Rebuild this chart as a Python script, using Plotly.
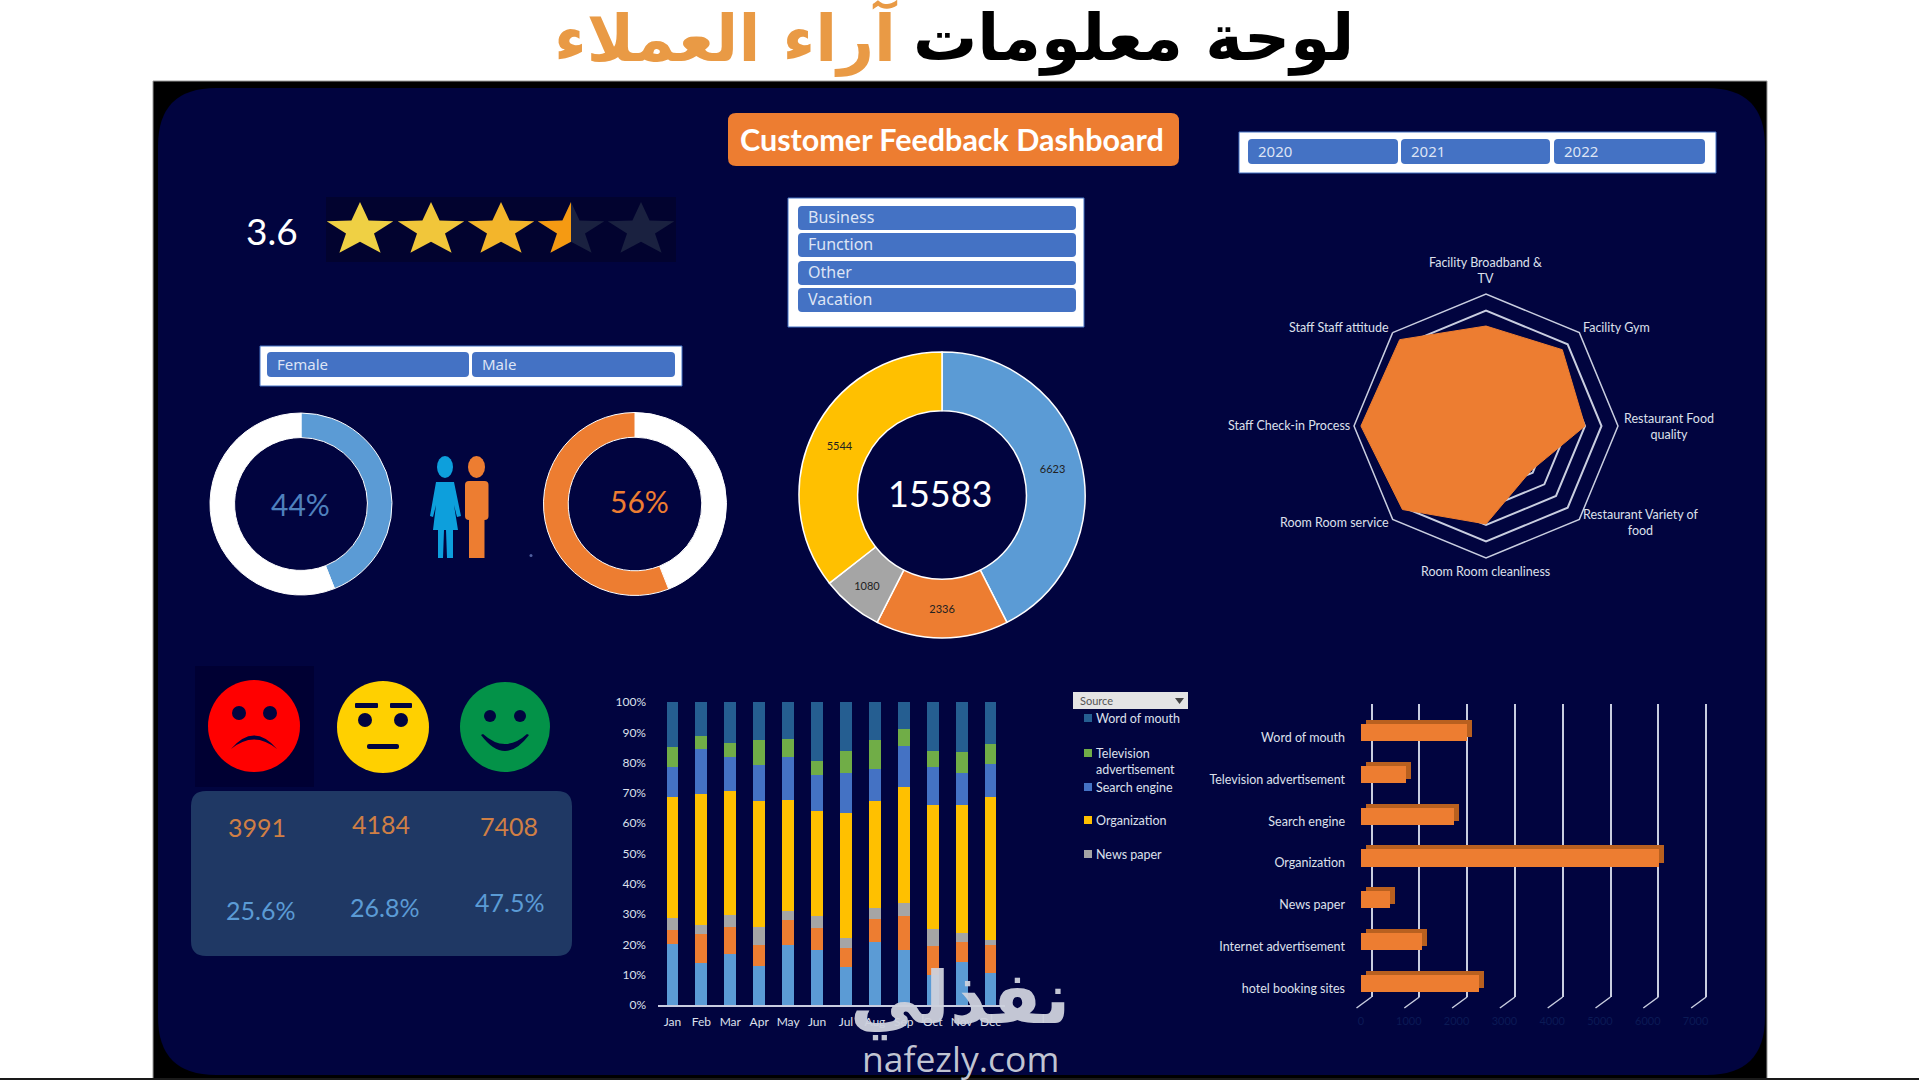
import math
import plotly.graph_objects as go

W = 1919
H = 1080

NAVY = "#01043F"
ORANGE = "#ED7D31"
BLUE = "#5B9BD5"
SLICER = "#4472C4"
TEXT = "#DDE0EC"
FONT = "Lato"

years = ["2020", "2021", "2022"]
travel_types = ["Business", "Function", "Other", "Vacation"]
genders = ["Female", "Male"]
rating = "3.6"
female_share = [44, 56]
male_share = [44, 56]

type_values = [6623, 2336, 1080, 5544]
type_total = "15583"
type_colors = [BLUE, ORANGE, "#A5A5A5", "#FFC000"]

radar_labels = ["Facility Broadband &<br>TV", "Facility Gym", "Restaurant Food<br>quality",
                "Restaurant Variety of<br>food", "Room Room cleanliness", "Room Room service",
                "Staff Check-in Process", "Staff Staff attitude"]
radar_values = [3.03, 3.27, 3.0, 1.92, 2.97, 3.58, 3.79, 3.7]
radar_label_x = [1485.5, 1616.5, 1669, 1641, 1485.5, 1334.5, 1288.5, 1338.5]
radar_label_y = [270, 327, 426, 522, 571, 522, 425, 327]

mood_counts = ["3991", "4184", "7408"]
mood_shares = ["25.6%", "26.8%", "47.5%"]

months = ["Jan", "Feb", "Mar", "Apr", "May", "Jun", "Jul", "Aug", "Sep", "Oct", "Nov", "Dec"]
hotel = [20.2, 13.9, 16.7, 13.0, 19.7, 18.1, 12.6, 20.7, 18.1, 9.8, 14.3, 10.4]
internet = [4.6, 9.4, 8.9, 6.8, 8.4, 7.2, 6.3, 7.6, 11.2, 9.6, 6.5, 9.4]
news = [3.9, 3.1, 4.0, 5.8, 2.8, 4.0, 3.1, 3.6, 4.5, 5.8, 3.0, 1.7]
organization = [39.8, 43.4, 41.1, 41.6, 36.7, 34.7, 41.5, 35.3, 38.3, 40.7, 42.1, 47.0]
search = [10.1, 14.8, 11.1, 11.9, 14.1, 12.0, 13.0, 10.6, 13.5, 12.7, 10.6, 11.1]
television = [6.5, 4.3, 4.7, 8.2, 6.1, 4.6, 7.3, 9.5, 5.4, 5.2, 6.9, 6.4]
word_of_mouth = [14.9, 11.1, 13.5, 12.7, 12.2, 19.4, 16.2, 12.7, 9.0, 16.2, 16.6, 14.0]

source_names = ["Word of mouth", "Television advertisement", "Search engine", "Organization",
                "News paper", "Internet advertisement", "hotel booking sites"]
source_values = [2220, 940, 1945, 6230, 610, 1270, 2460]
source_ticks = [0, 1000, 2000, 3000, 4000, 5000, 6000, 7000]


def dom_x(left, right):
    return [left / W, right / W]


def dom_y(top, bottom):
    return [1 - bottom / H, 1 - top / H]


shapes = []
annotations = []


def add_path(path, color, layer="below"):
    shapes.append(dict(type="path", path=path, xref="x", yref="y", fillcolor=color,
                       line=dict(width=0), layer=layer))


def add_line(x0, y0, x1, y1, color, width=1):
    shapes.append(dict(type="line", x0=x0, y0=y0, x1=x1, y1=y1, xref="x", yref="y",
                       line=dict(color=color, width=width), layer="below"))


def add_ellipse(cx, cy, rx, ry, color):
    shapes.append(dict(type="circle", x0=cx - rx, x1=cx + rx, y0=cy - ry, y1=cy + ry,
                       xref="x", yref="y", fillcolor=color, line=dict(width=0), layer="below"))


def round_rect(x0, y0, x1, y1, r, color):
    add_path(f"M{x0 + r},{y0} L{x1 - r},{y0} Q{x1},{y0} {x1},{y0 + r} L{x1},{y1 - r} "
             f"Q{x1},{y1} {x1 - r},{y1} L{x0 + r},{y1} Q{x0},{y1} {x0},{y1 - r} "
             f"L{x0},{y0 + r} Q{x0},{y0} {x0 + r},{y0} Z", color)


def polygon(points, color):
    add_path("M" + " L".join(f"{x:.1f},{y:.1f}" for x, y in points) + " Z", color)


def label(x, y, text, size, color=TEXT, anchor="center", family=FONT):
    annotations.append(dict(x=x, y=y, xref="x", yref="y", text=text, showarrow=False,
                            xanchor=anchor, yanchor="middle",
                            font=dict(size=size, color=color, family=family)))


def star_points(cx, cy, rx, ry):
    points = []
    for i in range(10):
        scale = 1 if i % 2 == 0 else 0.42
        angle = math.pi * i / 5
        points.append((cx + rx * scale * math.sin(angle), cy - ry * scale * math.cos(angle)))
    return points


def slicer(box, buttons, names, size=15):
    shapes.append(dict(type="rect", x0=box[0], y0=box[1], x1=box[2], y1=box[3], xref="x", yref="y",
                       fillcolor="white", line=dict(color=SLICER, width=1), layer="below"))
    for b, name in zip(buttons, names):
        round_rect(b[0], b[1], b[2], b[3], 4, SLICER)
        label(b[0] + 8, (b[1] + b[3]) / 2 - 1, name, size, "#DDE4F5", "left", "Noto Sans")


# page frame
shapes.append(dict(type="rect", x0=153, y0=81, x1=1767, y1=1080, xref="x", yref="y",
                   fillcolor="#000000", line=dict(color="#9A9A9A", width=1), layer="below"))
round_rect(158, 88, 1765, 1075, 58, NAVY)
add_line(0, 1079, W, 1079, "#1A1A1A", 2)

# headings
label(1356, 38, "<b>لوحة معلومات</b>", 64, "#000000", "right", "DejaVu Sans")
label(900, 38, "<b>آراء العملاء</b>", 64, "#E99A45", "right", "DejaVu Sans")
round_rect(728, 113, 1179, 166, 8, ORANGE)
label(952, 139, "<b>Customer Feedback Dashboard</b>", 30.5, "white")

# slicers
slicer((1239, 132, 1716, 173), [(1248, 139, 1398, 164), (1401, 139, 1550, 164), (1554, 139, 1705, 164)], years)
slicer((788, 198, 1084, 327), [(798, 206, 1076, 230), (798, 233, 1076, 257), (798, 261, 1076, 285),
                               (798, 288, 1076, 312)], travel_types, 16)
slicer((260, 346, 682, 386), [(267, 352, 469, 377), (472, 352, 675, 377)], genders)

# rating
label(272, 230, rating, 37, "white")
shapes.append(dict(type="rect", x0=326, y0=197, x1=676, y1=262, xref="x", yref="y",
                   fillcolor="#02032F", line=dict(width=0), layer="below"))
star_x = [360, 431, 501, 571, 641]
star_colors = ["#EFD044", "#F1C63A", "#F3B52B", "#1A2140", "#1A2140"]
for x, color in zip(star_x, star_colors):
    polygon(star_points(x, 230, 35, 28), color)
polygon(star_points(star_x[3], 230, 35, 28)[5:] + [star_points(star_x[3], 230, 35, 28)[0]], "#F59A12")

# people
add_ellipse(445, 467, 8, 11, "#0D9FDC")
polygon([(436, 482), (454, 482), (461, 516), (457, 517), (454, 505), (458, 530), (453, 530), (453, 558),
         (447, 558), (446, 530), (444, 530), (443, 558), (438, 558), (438, 530), (433, 530), (436, 505),
         (433, 517), (430, 516)], "#0D9FDC")
add_ellipse(476.5, 467, 8.5, 11, ORANGE)
round_rect(465, 481, 488.5, 520, 4, ORANGE)
polygon([(469, 515), (484.5, 515), (484.5, 558), (469, 558)], ORANGE)
add_ellipse(531, 555.5, 1.5, 1.5, "#5060A0")
label(300, 504, "44%", 30, "#4F81BD")
label(639, 501, "56%", 30, ORANGE)

# mood faces
shapes.append(dict(type="rect", x0=195, y0=666, x1=314, y1=787, xref="x", yref="y",
                   fillcolor="#000033", line=dict(width=0), layer="below"))
add_ellipse(254, 726, 46, 46, "#FF0000")
add_ellipse(239, 713, 7, 7, "#01043F")
add_ellipse(270, 713, 7, 7, "#01043F")
add_path("M231,749 Q254,722 277,749 Q254,730 231,749 Z", "#01043F")
add_ellipse(383, 727, 46, 46, "#FFD000")
add_ellipse(365, 720, 7, 7, "#01043F")
add_ellipse(401, 720, 7, 7, "#01043F")
round_rect(355, 703, 378, 708, 1, "#01043F")
round_rect(390, 703, 412, 708, 1, "#01043F")
round_rect(367, 744, 399, 749, 2, "#01043F")
add_ellipse(505, 727, 45, 45, "#039248")
add_ellipse(490, 716, 6, 6, "#01043F")
add_ellipse(520, 716, 6, 6, "#01043F")
add_path("M481,735 Q505,767 529,735 L527,734 Q505,754 483,734 Z", "#01043F")
round_rect(191, 791, 572, 956, 15, "#1F3864")
for x, y, text in zip([257, 381, 509], [827, 824, 826], mood_counts):
    label(x, y, text, 25, "#D07F45")
for x, y, text in zip([260, 384, 509], [910, 907, 902], mood_shares):
    label(x, y, text, 25, BLUE)

# column chart legend, drawn by hand because the slicer cuts the last entries off
shapes.append(dict(type="rect", x0=1073, y0=692, x1=1188, y1=709, xref="x", yref="y",
                   fillcolor="#E4E4E4", line=dict(width=0), layer="below"))
label(1078, 700.5, "Source", 11, "#555555", "left")
polygon([(1175, 698), (1184, 698), (1179.5, 704)], "#444444")
legend_y = [718, 753, 787, 820, 854]
legend_colors = ["#255E91", "#70AD47", SLICER, "#FFC000", "#A5A5A5"]
legend_text = ["Word of mouth", "Television", "Search engine", "Organization", "News paper"]
for y, color, text in zip(legend_y, legend_colors, legend_text):
    polygon([(1084, y - 4), (1092, y - 4), (1092, y + 4), (1084, y + 4)], color)
    label(1094, y, text, 12.5, TEXT, "left")
label(1094, 769, "advertisement", 12.5, TEXT, "left")

# tails of the 3D wall below the gridlines
wall_left = 1371.5
wall_step = 47.8
for tick in source_ticks:
    wall_x = wall_left + tick / 1000 * wall_step
    add_line(wall_x, 997, wall_x - 15, 1008, "#C9CEE0", 1.5)

# radar labels
for x, y, text in zip(radar_label_x, radar_label_y, radar_labels):
    label(x, y, text, 12.5)

# watermark
label(960, 998, "<b>نفذلي</b>", 72, "rgba(205,209,220,0.95)", "center", "DejaVu Sans")
label(960, 1058, "nafezly.com", 35.5, "rgba(205,209,220,0.95)", "center", "Open Sans")

fig = go.Figure()

# empty layer that carries the decoration
fig.add_trace(go.Scatter(x=[0, W], y=[0, H], mode="none", xaxis="x", yaxis="y", showlegend=False))

# stacked months
column_series = [(hotel, BLUE), (internet, ORANGE), (news, "#A5A5A5"), (organization, "#FFC000"),
                 (search, SLICER), (television, "#70AD47"), (word_of_mouth, "#255E91")]
for values, color in column_series:
    fig.add_trace(go.Bar(x=months, y=values, marker=dict(color=color, line=dict(width=0)),
                         xaxis="x2", yaxis="y2", showlegend=False))

# source bars: wall grid, depth, front face and the category labels a little lower
fig.add_trace(go.Scatter(x=source_ticks, y=[0] * len(source_ticks), mode="none", xaxis="x3", yaxis="y3",
                         showlegend=False))
fig.add_trace(go.Bar(x=source_values, y=source_names, orientation="h", width=0.41,
                     marker=dict(color="#B9601F", line=dict(width=0)), xaxis="x4", yaxis="y4",
                     showlegend=False))
fig.add_trace(go.Bar(x=source_values, y=source_names, orientation="h", width=0.41,
                     marker=dict(color=ORANGE, line=dict(width=0)), xaxis="x5", yaxis="y5",
                     showlegend=False))
fig.add_trace(go.Scatter(x=source_values, y=source_names, mode="none", xaxis="x6", yaxis="y6",
                         showlegend=False))

# donuts
fig.add_trace(go.Pie(values=female_share, marker=dict(colors=[BLUE, "white"], line=dict(color="white", width=1)),
                     hole=0.73, sort=False, direction="clockwise", textinfo="none",
                     domain=dict(x=dom_x(301 - 91, 301 + 91), y=dom_y(504 - 91, 504 + 91)), showlegend=False))
fig.add_trace(go.Pie(values=male_share, marker=dict(colors=["white", ORANGE], line=dict(color="white", width=1)),
                     hole=0.73, sort=False, direction="clockwise", textinfo="none",
                     domain=dict(x=dom_x(635 - 91.5, 635 + 91.5), y=dom_y(504 - 91.5, 504 + 91.5)), showlegend=False))
fig.add_trace(go.Pie(values=type_values, marker=dict(colors=type_colors, line=dict(color="white", width=1.5)),
                     hole=0.59, sort=False, direction="clockwise", textinfo="value",
                     textposition="inside", insidetextorientation="horizontal",
                     textfont=dict(size=11, color="#222222", family=FONT),
                     domain=dict(x=dom_x(942 - 143, 942 + 143), y=dom_y(495 - 143, 495 + 143)), showlegend=False))
label(940, 493, type_total, 36, "white")

# radar
fig.add_trace(go.Scatterpolar(r=radar_values + radar_values[:1], theta=radar_labels + radar_labels[:1],
                              mode="lines", fill="toself", fillcolor=ORANGE, line=dict(color=ORANGE, width=1),
                              showlegend=False))

fig.update_layout(
    width=W,
    height=H,
    margin=dict(l=0, r=0, t=0, b=0, autoexpand=False),
    paper_bgcolor="white",
    plot_bgcolor="rgba(0,0,0,0)",
    barmode="stack",
    bargap=0.59,
    font=dict(family=FONT, color=TEXT, size=12),
    shapes=shapes,
    annotations=annotations,
    xaxis=dict(domain=[0, 1], range=[0, W], visible=False, fixedrange=True),
    yaxis=dict(domain=[0, 1], range=[H, 0], visible=False, fixedrange=True),
    xaxis2=dict(domain=dom_x(658, 1005), anchor="y2", showgrid=False, showline=True, linecolor="#C8CCE0",
                linewidth=1.5, ticks="", tickfont=dict(size=12, color=TEXT), ticklabelstandoff=5),
    yaxis2=dict(domain=dom_y(702, 1005), anchor="x2", range=[0, 100], dtick=10, ticksuffix="%", showgrid=False,
                zeroline=False, ticks="", tickfont=dict(size=12, color=TEXT), ticklabelstandoff=11),
    # half a step of slack each side, plotly drops gridlines sitting on the plot edge
    xaxis3=dict(domain=dom_x(wall_left - 0.5 * wall_step, wall_left + 7.5 * wall_step), anchor="y3",
                range=[-500, 7500], tickvals=source_ticks, showgrid=True, gridcolor="#C9CEE0", gridwidth=1.5,
                zeroline=False, showticklabels=False, ticks=""),
    yaxis3=dict(domain=dom_y(704, 997), anchor="x3", visible=False, range=[0, 1]),
    xaxis4=dict(domain=dom_x(1366, 1366 + 7 * wall_step), anchor="y4", range=[0, 7000], visible=False),
    yaxis4=dict(domain=dom_y(708, 1000), anchor="x4", categoryorder="array", categoryarray=source_names,
                autorange="reversed", visible=False),
    xaxis5=dict(domain=dom_x(1361, 1361 + 7 * wall_step), anchor="y5", range=[0, 7000], tickvals=source_ticks,
                showgrid=False, zeroline=False, ticks="", tickfont=dict(size=11, color="#0B1A55"),
                ticklabelstandoff=9),
    yaxis5=dict(domain=dom_y(712, 1004), anchor="x5", categoryorder="array", categoryarray=source_names,
                autorange="reversed", visible=False),
    xaxis6=dict(domain=dom_x(1361, 1361 + 7 * wall_step), anchor="y6", range=[0, 7000], visible=False),
    yaxis6=dict(domain=dom_y(717, 1009), anchor="x6", categoryorder="array", categoryarray=source_names,
                range=[len(source_names) - 0.5, -0.5], showgrid=False, zeroline=False, showline=False, ticks="",
                ticklabelstandoff=15, tickfont=dict(size=12.5, color=TEXT)),
    polar=dict(
        domain=dict(x=dom_x(1486 - 132, 1486 + 132), y=dom_y(426 - 132, 426 + 132)),
        bgcolor="rgba(0,0,0,0)",
        gridshape="linear",
        radialaxis=dict(range=[0, 4], dtick=0.5, showticklabels=False, ticks="", showline=False,
                        gridcolor="#C9CEE0", gridwidth=1.5),
        angularaxis=dict(rotation=90, direction="clockwise", showgrid=False, ticks="", linecolor="#C9CEE0",
                         linewidth=1.5, showticklabels=False),
    ),
)

fig.write_html("out.html", config={"displayModeBar": False},
               post_script="document.body.style.margin='0';document.body.style.overflow='hidden';")
